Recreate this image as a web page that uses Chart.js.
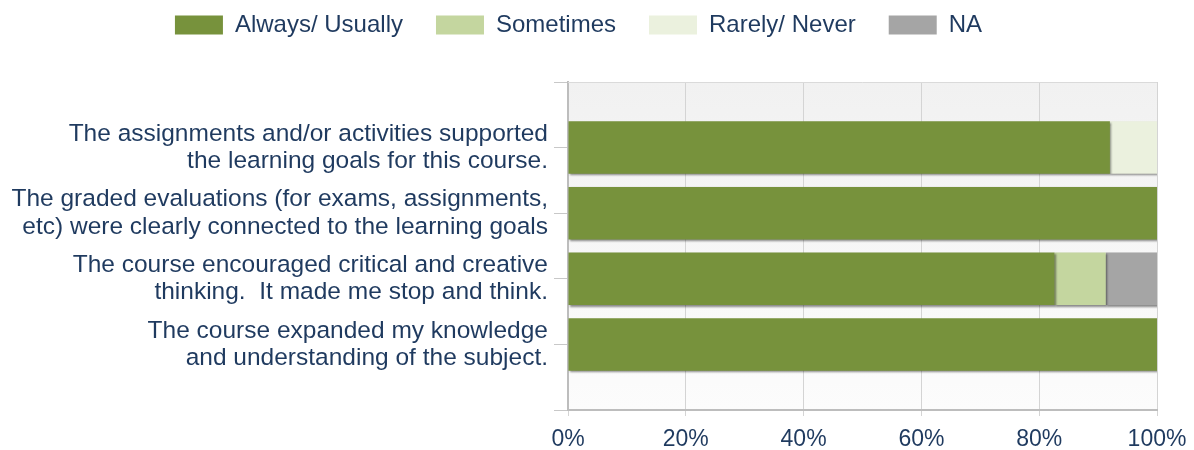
<!DOCTYPE html>
<html>
<head>
<meta charset="utf-8">
<script src="https://cdn.jsdelivr.net/npm/chart.js@4"></script>
<style>
html,body{margin:0;padding:0;background:#ffffff;}
#wrap{width:1194px;height:450px;position:relative;}
</style>
</head>
<body>
<div id="wrap"><canvas id="c" width="1194" height="450"></canvas></div>
<script>
const categories = [
  "",
  ["The assignments and/or activities supported", "the learning goals for this course."],
  ["The graded evaluations (for exams, assignments,", "etc) were clearly connected to the learning goals"],
  ["The course encouraged critical and creative", "thinking.  It made me stop and think."],
  ["The course expanded my knowledge", "and understanding of the subject."],
  ""
];
const seriesNames = ["Always/ Usually", "Sometimes", "Rarely/ Never", "NA"];
const alwaysUsually = [null, 92, 100, 82.6, 100, null];
const sometimes     = [null, 0, 0, 8.7, 0, null];
const rarelyNever   = [null, 8, 0, 0, 0, null];
const notApplicable = [null, 0, 0, 8.7, 0, null];
const xTicks = [0, 20, 40, 60, 80, 100];

const colors = ["#77923C", "#C4D69F", "#EBF1DE", "#A5A5A5"];
const textColor = "#1F3A5F";
const fontFamily = "'Liberation Sans', Arial, sans-serif";

const areaPlugin = {
  id: 'areaBg',
  afterInit(chart) {
    const lg = chart.legend;
    if (lg) {
      const orig = lg.fit;
      lg.fit = function () { orig.call(this); this.height = 82; };
    }
  },
  afterLayout(chart) {
    const lg = chart.legend;
    if (lg) { lg.top = -20; lg.bottom = lg.top + lg.height; }
  },
  beforeDraw(chart) {
    const {ctx, chartArea: a} = chart;
    const g = ctx.createLinearGradient(0, a.top, 0, a.bottom);
    g.addColorStop(0, '#F1F1F1');
    g.addColorStop(1, '#FCFCFC');
    ctx.save();
    ctx.fillStyle = g;
    ctx.fillRect(a.left, a.top, a.right - a.left, a.bottom - a.top);
    ctx.restore();
  },
  beforeDatasetsDraw(chart) {
    const ctx = chart.ctx;
    ctx.save();
    ctx.shadowColor = 'rgba(0,0,0,0.45)';
    ctx.shadowOffsetX = 1.5;
    ctx.shadowOffsetY = 1.5;
    ctx.shadowBlur = 2;
  },
  afterDatasetsDraw(chart) {
    chart.ctx.restore();
    const {ctx, chartArea: a} = chart;
    ctx.save();
    ctx.strokeStyle = '#DADADA';
    ctx.lineWidth = 1;
    ctx.beginPath();
    ctx.moveTo(a.left, a.top + 0.5);
    ctx.lineTo(a.right, a.top + 0.5);
    ctx.stroke();
    ctx.restore();
  }
};

new Chart(document.getElementById('c'), {
  type: 'bar',
  data: {
    labels: categories,
    datasets: [
      {label: seriesNames[0], data: alwaysUsually, backgroundColor: colors[0]},
      {label: seriesNames[1], data: sometimes, backgroundColor: colors[1]},
      {label: seriesNames[2], data: rarelyNever, backgroundColor: colors[2]},
      {label: seriesNames[3], data: notApplicable, backgroundColor: colors[3]}
    ].map(d => Object.assign(d, {borderWidth: 0, barPercentage: 0.8, categoryPercentage: 1.0}))
  },
  options: {
    indexAxis: 'y',
    responsive: false,
    animation: false,
    events: [],
    layout: {padding: {left: 0, right: 37, top: 0, bottom: 0}},
    plugins: {
      tooltip: {enabled: false},
      legend: {
        position: 'top',
        labels: {
          color: textColor,
          font: {family: fontFamily, size: 24},
          boxWidth: 48,
          boxHeight: 19,
          padding: 33
        }
      }
    },
    scales: {
      x: {
        type: 'linear',
        stacked: true,
        min: 0,
        max: 100,
        afterBuildTicks(scale) { scale.ticks = xTicks.map(v => ({value: v})); },
        afterFit(scale) { scale.height = 40; scale.paddingRight = 0; scale.paddingLeft = 0; },
        ticks: {
          color: textColor,
          font: {family: fontFamily, size: 23},
          padding: 10,
          maxRotation: 0,
          callback: v => v + '%'
        },
        grid: {color: '#D4D4D4', tickLength: 6, drawTicks: true},
        border: {color: '#BDBDBD', width: 2}
      },
      y: {
        type: 'category',
        stacked: true,
        offset: false,
        afterFit(scale) { scale.width = 568; },
        ticks: {
          color: textColor,
          font: {family: fontFamily, size: 24.5, lineHeight: 1.11},
          padding: 6,
          autoSkip: false
        },
        grid: {drawOnChartArea: false, offset: false, color: '#C8C8C8', tickLength: 14},
        border: {color: '#BDBDBD', width: 2}
      }
    }
  },
  plugins: [areaPlugin]
});
</script>
</body>
</html>
